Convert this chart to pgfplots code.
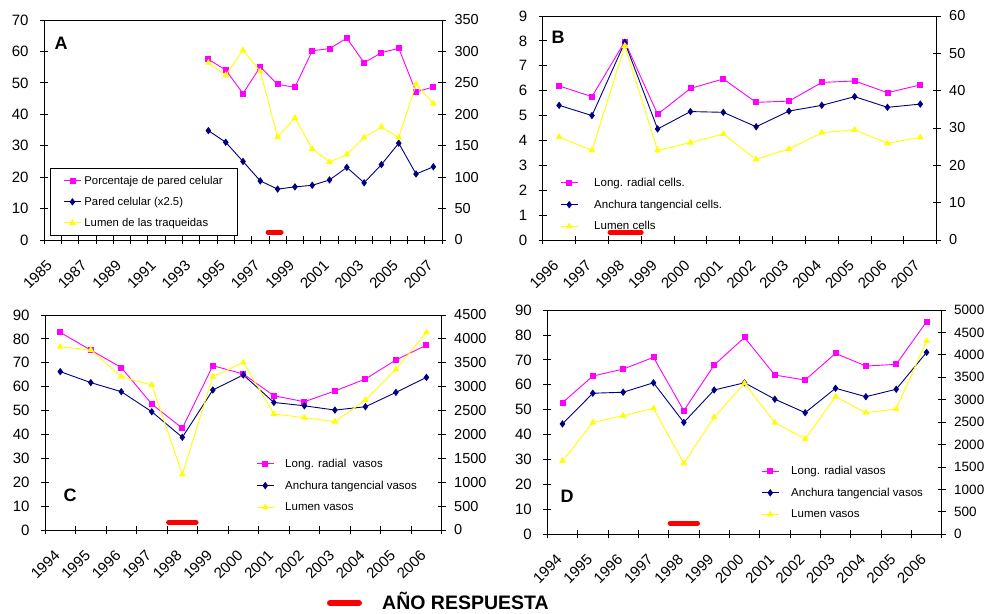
\documentclass[border=0pt]{standalone}
\usepackage{fontspec}
\setmainfont{Liberation Sans}
\usepackage{pgfplots}
\pgfplotsset{compat=1.18}

\definecolor{mag}{RGB}{255,0,255}
\definecolor{nav}{RGB}{0,0,128}
\definecolor{yel}{RGB}{255,255,0}

\pgfplotsset{
  base/.style={
    scale only axis,
    axis line style={black, line width=0.8pt},
    tick style={black, line width=0.8pt},
    tick align=center,
    major tick length=8pt,
    ticklabel style={font=\fontsize{15}{15}\selectfont},
    /pgf/number format/assume math mode=true,
    /pgf/number format/1000 sep={},
    scaled y ticks=false,
    clip=false,
  },
  leftax/.style={base, xtick pos=bottom, ytick pos=left,
    x tick label as interval,
    xticklabel style={xshift=-7pt, yshift=-10pt, rotate=45, anchor=north east, font=\fontsize{15}{15}\selectfont},
    yticklabel style={xshift=-8pt},
    legend cell align=left},
  rightax/.style={base, axis x line=none, axis y line*=right,
    yticklabel style={xshift=5pt, font=\fontsize{14.5}{15}\selectfont}},
  smag/.style={mag, line width=0.9pt, mark=square*, mark size=2.5pt, mark options={solid, fill=mag}},
  snav/.style={nav, line width=0.9pt, mark=diamond*, mark size=3pt, mark options={solid, fill=nav}},
  syel/.style={yel, line width=0.9pt, mark=triangle*, mark size=3pt, mark options={solid, fill=yel}},
  sred/.style={red, line width=5pt, line cap=round, no markers},
  nolegbox/.style={legend style={draw=none, fill=none, inner sep=0pt,
    font=\fontsize{11.5}{12}\selectfont, row sep=8pt, column sep=6pt}},
}

\begin{document}
\begin{tikzpicture}
\useasboundingbox (0,0) rectangle (985pt,613pt);

% ---------------- Panel A ----------------
\begin{axis}[leftax, at={(44pt,373pt)}, anchor=south west, width=398pt, height=220pt,
  xmin=1984.5, xmax=2007.5, ymin=0, ymax=70, ytick={0,10,...,70},
  xtick={1984.5,1985.5,...,2007.5},
  xticklabels={1985,,1987,,1989,,1991,,1993,,1995,,1997,,1999,,2001,,2003,,2005,,2007},
  legend style={at={(0.015,0.327)}, anchor=north west, draw=black, line width=1pt,
    inner xsep=13pt, inner ysep=5.5pt,
    font=\fontsize{11.3}{12}\selectfont, row sep=7.3pt, column sep=1pt}]
\addplot[smag] coordinates {(1994,57.5)(1995,54.1)(1996,46.6)(1997,55.1)(1998,49.5)(1999,48.6)(2000,60.2)(2001,60.9)(2002,64.2)(2003,56.4)(2004,59.6)(2005,61.0)(2006,47.1)(2007,48.7)};
\addlegendentry{Porcentaje de pared celular}
\addplot[snav] coordinates {(1994,34.8)(1995,31.1)(1996,25.0)(1997,18.8)(1998,16.2)(1999,16.9)(2000,17.4)(2001,19.1)(2002,23.1)(2003,18.2)(2004,24.0)(2005,30.8)(2006,21.0)(2007,23.3)};
\addlegendentry{Pared celular (x2.5)}
\addlegendimage{syel}
\addlegendentry{Lumen de las traqueidas}
\addplot[sred, forget plot] coordinates {(1997.45,2.45)(1998.2,2.45)};
\end{axis}
\begin{axis}[rightax, at={(44pt,373pt)}, anchor=south west, width=398pt, height=220pt,
  xmin=1984.5, xmax=2007.5, ymin=0, ymax=350, ytick={0,50,...,350}]
\addplot[syel] coordinates {(1994,282)(1995,262)(1996,302)(1997,268)(1998,164)(1999,194)(2000,145)(2001,124)(2002,136)(2003,163)(2004,180)(2005,163)(2006,248)(2007,217)};
\end{axis}
\node[font=\bfseries\fontsize{18}{18}\selectfont] at (61pt,570pt) {A};

% ---------------- Panel B ----------------
\begin{axis}[leftax, nolegbox, at={(542.7pt,373pt)}, anchor=south west, width=394pt, height=224pt,
  xmin=1995.5, xmax=2007.5, ymin=0, ymax=9, ytick={0,1,...,9},
  xtick={1995.5,1996.5,...,2007.5},
  xticklabels={1996,1997,1998,1999,2000,2001,2002,2003,2004,2005,2006,2007},
  legend style={at={(0.044,0.287)}, anchor=north west, column sep=14pt}]
\addplot[smag] coordinates {(1996,6.19)(1997,5.76)(1998,7.97)(1999,5.05)(2000,6.09)(2001,6.47)(2002,5.53)(2003,5.58)(2004,6.33)(2005,6.39)(2006,5.92)(2007,6.23)};
\addlegendentry{Long. radial cells.}
\addplot[snav] coordinates {(1996,5.41)(1997,5.00)(1998,7.94)(1999,4.46)(2000,5.16)(2001,5.13)(2002,4.55)(2003,5.18)(2004,5.41)(2005,5.76)(2006,5.33)(2007,5.46)};
\addlegendentry{Anchura tangencial cells.}
\addlegendimage{syel}
\addlegendentry{Lumen cells}
\addplot[sred, forget plot] coordinates {(1997.55,0.31)(1998.5,0.31)};
\end{axis}
\begin{axis}[rightax, at={(542.7pt,373pt)}, anchor=south west, width=394pt, height=224pt,
  xmin=1995.5, xmax=2007.5, ymin=0, ymax=60, ytick={0,10,...,60}]
\addplot[syel] coordinates {(1996,27.6)(1997,24.0)(1998,52.0)(1999,24.0)(2000,26.1)(2001,28.4)(2002,21.6)(2003,24.4)(2004,28.75)(2005,29.5)(2006,25.9)(2007,27.5)};
\end{axis}
\node[font=\bfseries\fontsize{18}{18}\selectfont] at (558pt,576pt) {B};

% ---------------- Panel C ----------------
\begin{axis}[leftax, nolegbox, at={(45pt,83pt)}, anchor=south west, width=396.7pt, height=215pt,
  xmin=1993.5, xmax=2006.5, ymin=0, ymax=90, ytick={0,10,...,90},
  xtick={1993.5,1994.5,...,2006.5},
  xticklabels={1994,1995,1996,1997,1998,1999,2000,2001,2002,2003,2004,2005,2006},
  legend style={at={(0.532,0.341)}, anchor=north west, column sep=9pt}]
\addplot[smag] coordinates {(1994,82.7)(1995,75.3)(1996,68.0)(1997,52.7)(1998,42.6)(1999,68.8)(2000,65.3)(2001,56.2)(2002,53.7)(2003,58.2)(2004,63.2)(2005,71.2)(2006,77.4)};
\addlegendentry{Long. radial\ \ vasos}
\addplot[snav] coordinates {(1994,66.3)(1995,61.7)(1996,57.9)(1997,49.5)(1998,38.8)(1999,58.6)(2000,64.9)(2001,53.4)(2002,52.0)(2003,50.2)(2004,51.6)(2005,57.6)(2006,63.9)};
\addlegendentry{Anchura tangencial vasos}
\addlegendimage{syel}
\addlegendentry{Lumen vasos}
\addplot[sred, forget plot] coordinates {(1997.55,3.2)(1998.45,3.2)};
\end{axis}
\begin{axis}[rightax, at={(45pt,83pt)}, anchor=south west, width=396.7pt, height=215pt,
  xmin=1993.5, xmax=2006.5, ymin=0, ymax=4500, ytick={0,500,...,4500}]
\addplot[syel] coordinates {(1994,3837)(1995,3767)(1996,3209)(1997,3035)(1998,1165)(1999,3209)(2000,3509)(2001,2428)(2002,2351)(2003,2267)(2004,2721)(2005,3363)(2006,4137)};
\end{axis}
\node[font=\bfseries\fontsize{18}{18}\selectfont] at (70pt,118pt) {C};

% ---------------- Panel D ----------------
\begin{axis}[leftax, nolegbox, at={(547.3pt,78.7pt)}, anchor=south west, width=394.4pt, height=224.3pt,
  xmin=1993.5, xmax=2006.5, ymin=0, ymax=90, ytick={0,10,...,90},
  xtick={1993.5,1994.5,...,2006.5},
  xticklabels={1994,1995,1996,1997,1998,1999,2000,2001,2002,2003,2004,2005,2006},
  legend style={at={(0.542,0.314)}, anchor=north west, column sep=10pt}]
\addplot[smag] coordinates {(1994,52.8)(1995,63.5)(1996,66.3)(1997,71.0)(1998,49.6)(1999,67.9)(2000,79.0)(2001,63.9)(2002,61.9)(2003,72.6)(2004,67.5)(2005,68.2)(2006,85.3)};
\addlegendentry{Long. radial vasos}
\addplot[snav] coordinates {(1994,44.3)(1995,56.6)(1996,57.0)(1997,60.8)(1998,44.9)(1999,57.9)(2000,60.8)(2001,54.2)(2002,48.8)(2003,58.6)(2004,55.2)(2005,58.2)(2006,73.0)};
\addlegendentry{Anchura tangencial vasos}
\addlegendimage{syel}
\addlegendentry{Lumen vasos}
\addplot[sred, forget plot] coordinates {(1997.55,4.4)(1998.45,4.4)};
\end{axis}
\begin{axis}[rightax, at={(547.3pt,78.7pt)}, anchor=south west, width=394.4pt, height=224.3pt,
  xmin=1993.5, xmax=2006.5, ymin=0, ymax=5000, ytick={0,500,...,5000},
  yticklabel style={font=\fontsize{13.5}{14}\selectfont}]
\addplot[syel] coordinates {(1994,1634)(1995,2489)(1996,2645)(1997,2808)(1998,1582)(1999,2608)(2000,3366)(2001,2489)(2002,2125)(2003,3068)(2004,2712)(2005,2793)(2006,4309)};
\end{axis}
\node[font=\bfseries\fontsize{18}{18}\selectfont] at (567pt,117pt) {D};

% ---------------- bottom key ----------------
\draw[red, line width=6pt, line cap=round] (330pt,10pt) -- (359pt,10pt);
\node[anchor=base west, font=\bfseries\fontsize{19.5}{20}\selectfont, inner sep=0pt] at (382pt,3pt) {AÑO RESPUESTA};
\end{tikzpicture}
\end{document}
